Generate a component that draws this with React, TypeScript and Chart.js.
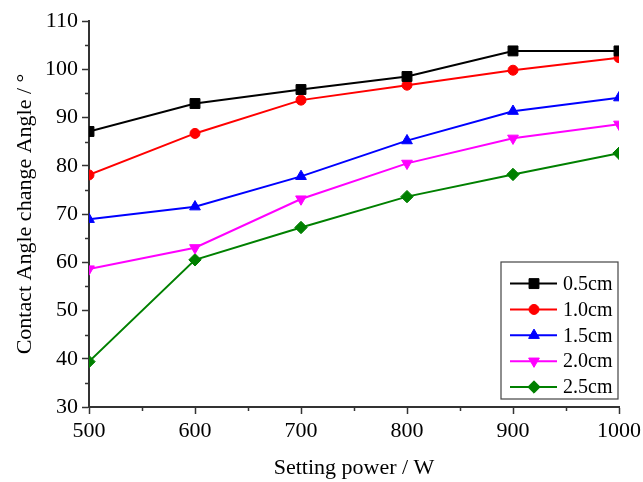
import React, { useEffect, useRef } from "react";
import { Chart, registerables } from "chart.js";
import { drawPoint } from "chart.js/helpers";

Chart.register(...registerables);

const powers = [500, 600, 700, 800, 900, 1000];
const s05 = [87.1, 92.9, 95.8, 98.5, 103.8, 103.8];
const s10 = [78.1, 86.7, 93.6, 96.7, 99.8, 102.4];
const s15 = [68.9, 71.5, 77.8, 85.2, 91.3, 94.1];
const s20 = [58.6, 63.0, 73.1, 80.5, 85.7, 88.6];
const s25 = [39.4, 60.5, 67.2, 73.6, 78.2, 82.6];
const seriesLabels = ["0.5cm", "1.0cm", "1.5cm", "2.0cm", "2.5cm"];

const FONT = '"Liberation Serif", "Times New Roman", serif';
const AXIS = "#333333";

const minorTicks = {
  id: "minorTicks",
  afterDraw(chart: any) {
    const { ctx, chartArea } = chart;
    const xs = chart.scales.x;
    const ys = chart.scales.y;
    ctx.save();
    ctx.strokeStyle = AXIS;
    ctx.lineWidth = 1.5;
    const xt = xs.ticks.map((t: any) => t.value);
    for (let i = 0; i < xt.length - 1; i++) {
      const px = Math.round(xs.getPixelForValue((xt[i] + xt[i + 1]) / 2)) + 0.5;
      ctx.beginPath();
      ctx.moveTo(px, chartArea.bottom);
      ctx.lineTo(px, chartArea.bottom + 4);
      ctx.stroke();
    }
    const yt = ys.ticks.map((t: any) => t.value);
    for (let i = 0; i < yt.length - 1; i++) {
      const py = Math.round(ys.getPixelForValue((yt[i] + yt[i + 1]) / 2)) + 0.5;
      ctx.beginPath();
      ctx.moveTo(chartArea.left - 4, py);
      ctx.lineTo(chartArea.left, py);
      ctx.stroke();
    }
    ctx.restore();
  },
};

const boxLegend = {
  id: "boxLegend",
  afterDraw(chart: any) {
    const { ctx, chartArea } = chart;
    const w = 117;
    const h = 137;
    const right = chartArea.right - 1;
    const bottom = chartArea.bottom - 8;
    const left = right - w;
    const top = bottom - h;
    ctx.save();
    ctx.fillStyle = "#ffffff";
    ctx.fillRect(left, top, w, h);
    ctx.strokeStyle = "#444444";
    ctx.lineWidth = 1.2;
    ctx.strokeRect(left, top, w, h);
    chart.data.datasets.forEach((ds: any, i: number) => {
      const y = top + 21.6 + i * 25.85;
      ctx.strokeStyle = ds.borderColor;
      ctx.lineWidth = 2;
      ctx.beginPath();
      ctx.moveTo(left + 9, y);
      ctx.lineTo(left + 56, y);
      ctx.stroke();
      ctx.fillStyle = ds.backgroundColor;
      ctx.strokeStyle = ds.borderColor;
      ctx.lineWidth = 1;
      drawPoint(
        ctx,
        {
          pointStyle: ds.pointStyle,
          rotation: ds.pointRotation || 0,
          radius: ds.pointRadius,
          borderWidth: 1,
        } as any,
        left + 33,
        y
      );
      ctx.fillStyle = "#000000";
      ctx.font = `20px ${FONT}`;
      ctx.textBaseline = "middle";
      ctx.textAlign = "left";
      ctx.fillText(ds.label, left + 62, y + 1);
    });
    ctx.restore();
  },
};

export default function App() {
  const ref = useRef<HTMLCanvasElement | null>(null);

  useEffect(() => {
    if (!ref.current) return;
    const mk = (label: string, vals: number[], color: string, style: string, radius: number, rot = 0) => ({
      label,
      data: powers.map((p, i) => ({ x: p, y: vals[i] })),
      borderColor: color,
      backgroundColor: color,
      pointBackgroundColor: color,
      pointBorderColor: color,
      pointBorderWidth: 1,
      borderWidth: 2,
      pointStyle: style,
      pointRadius: radius,
      pointRotation: rot,
      tension: 0,
      clip: 0,
    });
    const chart = new Chart(ref.current, {
      type: "line",
      data: {
        datasets: [
          mk(seriesLabels[0], s05, "#000000", "rect", 7),
          mk(seriesLabels[1], s10, "#ff0000", "circle", 5),
          mk(seriesLabels[2], s15, "#0000ff", "triangle", 6.2),
          mk(seriesLabels[3], s20, "#ff00ff", "triangle", 6.2, 180),
          mk(seriesLabels[4], s25, "#008000", "rectRot", 6.2),
        ] as any,
      },
      options: {
        responsive: false,
        animation: false,
        devicePixelRatio: 1,
        layout: { padding: { left: 0, right: 24, top: 21, bottom: 0 } },
        plugins: {
          legend: { display: false },
          tooltip: { enabled: false },
        },
        scales: {
          x: {
            type: "linear",
            min: 500,
            max: 1000,
            afterFit: (s: any) => {
              s.height = 75;
              s.paddingRight = 0;
              s.paddingLeft = 0;
            },
            ticks: {
              stepSize: 100,
              color: "#000000",
              padding: 4,
              font: { family: FONT, size: 22 },
              maxRotation: 0,
              callback: (v: any) => String(v),
            },
            grid: {
              drawOnChartArea: false,
              drawTicks: true,
              tickLength: 7,
              tickWidth: 1.5,
              tickColor: AXIS,
            },
            border: { display: true, color: AXIS, width: 2 },
            title: {
              display: true,
              text: "Setting power / W",
              color: "#000000",
              font: { family: FONT, size: 22 },
              padding: { top: 0, bottom: 1 },
            },
          },
          y: {
            type: "linear",
            min: 30,
            max: 110,
            afterFit: (s: any) => {
              s.width = 89;
            },
            ticks: {
              stepSize: 10,
              color: "#000000",
              padding: 4,
              font: { family: FONT, size: 22 },
              callback: (v: any) => String(v),
            },
            grid: {
              drawOnChartArea: false,
              drawTicks: true,
              tickLength: 7,
              tickWidth: 1.5,
              tickColor: AXIS,
            },
            border: { display: true, color: AXIS, width: 2 },
            title: {
              display: true,
              text: "Contact Angle change Angle / °",
              color: "#000000",
              font: { family: FONT, size: 22 },
              padding: { top: 12, bottom: 0 },
            },
          },
        },
      } as any,
      plugins: [minorTicks, boxLegend],
    });
    return () => chart.destroy();
  }, []);

  return (
    <div style={{ position: "fixed", left: 0, top: 0, width: 643, height: 482, background: "#ffffff" }}>
      <canvas ref={ref} width={643} height={482} style={{ display: "block" }} />
    </div>
  );
}
